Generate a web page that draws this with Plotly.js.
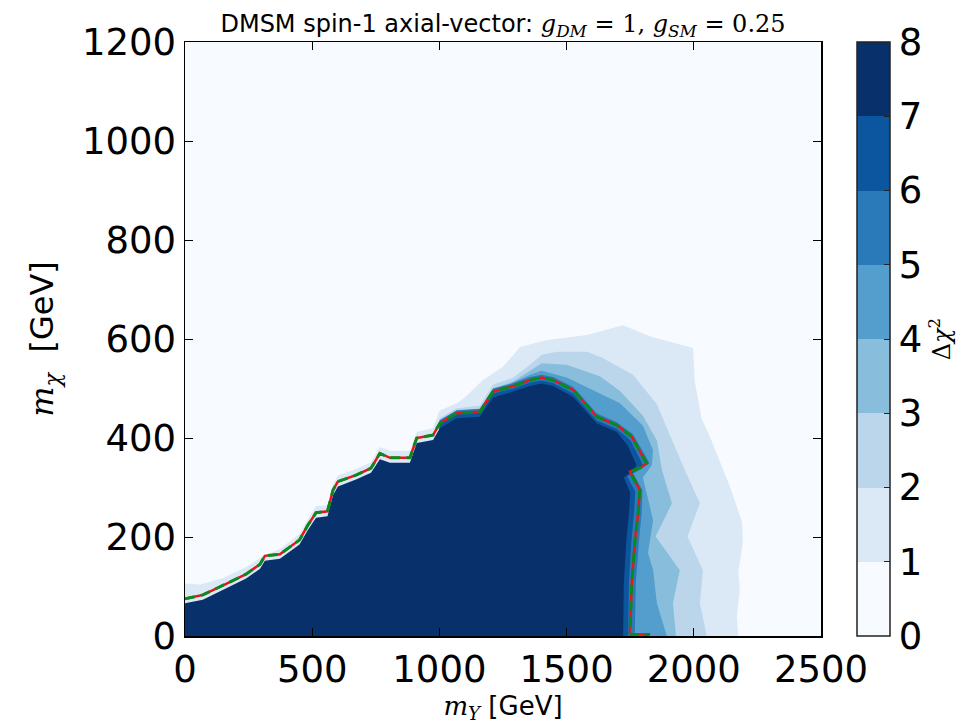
<!DOCTYPE html>
<html>
<head>
<meta charset="utf-8">
<script src="https://cdn.plot.ly/plotly-3.0.1.min.js"></script>
<style>html,body{margin:0;padding:0;background:#fff;}</style>
</head>
<body>
<div id="chart" style="width:973px;height:725px;"></div>
<script>
// Filled Δχ² regions, one boundary per contour level (m_Y, m_χ in GeV)
const level1X = [0, 0, 60, 150, 250, 300, 373, 450, 483, 515, 560, 582, 601, 672, 731, 766, 806, 884, 911, 975, 1000, 1068, 1100, 1171, 1250, 1317, 1422, 1580, 1698, 1722, 1830, 1973, 1997, 2004, 2030, 2063, 2115, 2142, 2190, 2193, 2175, 2181, 2169, 2175];
const level1Y = [0, 106, 104, 117, 142, 160, 176, 206, 236, 262, 264, 307, 324, 337, 351, 382, 374, 374, 412, 420, 455, 470, 482, 517, 544, 584, 598, 608, 625, 628, 605, 584, 582, 514, 440, 403, 335, 302, 230, 188, 130, 93, 40, 0];

const level2X = [1000, 1000, 1068, 1159, 1211, 1290, 1356, 1402, 1462, 1580, 1640, 1761, 1855, 1910, 1965, 2024, 1975, 2036, 2024, 2051];
const level2Y = [0, 440, 460, 465, 508, 522, 548, 568, 574, 574, 562, 528, 468, 400, 335, 268, 201, 133, 66, 0];

const level3X = [1100, 1100, 1159, 1211, 1290, 1356, 1402, 1500, 1592, 1631, 1710, 1800, 1855, 1875, 1914, 1850, 1945, 1918, 1930];
const level3Y = [0, 450, 456, 500, 514, 535, 551, 548, 532, 525, 495, 445, 395, 335, 268, 201, 133, 66, 0];

const level4X = [1200, 1200, 1250, 1290, 1356, 1402, 1500, 1592, 1631, 1710, 1800, 1840, 1835, 1800, 1840, 1820, 1840, 1855, 1894];
const level4Y = [0, 470, 495, 512, 528, 536, 522, 500, 490, 470, 425, 375, 345, 320, 234, 168, 133, 66, 0];

const level5X = [1000, 1000, 1068, 1159, 1211, 1290, 1356, 1402, 1447, 1526, 1580, 1618, 1697, 1760, 1808, 1825, 1795, 1762, 1798, 1795, 1785, 1772, 1768];
const level5Y = [0, 436, 456, 459, 500, 511, 523, 528, 523, 503, 472, 450, 432, 408, 366, 350, 338, 328, 295, 248, 194, 107, 0];

const level6X = [1000, 1000, 1068, 1159, 1211, 1290, 1356, 1402, 1447, 1526, 1580, 1618, 1697, 1750, 1790, 1800, 1770, 1738, 1770, 1765, 1755, 1745, 1742];
const level6Y = [0, 428, 448, 451, 490, 500, 512, 516, 511, 490, 458, 436, 418, 396, 356, 343, 333, 322, 292, 248, 194, 107, 0];

const level7X = [0, 0, 70, 160, 240, 295, 314, 373, 450, 483, 515, 560, 582, 601, 672, 731, 766, 806, 884, 911, 975, 1002, 1068, 1159, 1211, 1290, 1356, 1402, 1447, 1526, 1580, 1618, 1697, 1740, 1775, 1760, 1725, 1750, 1745, 1735, 1725, 1722];
const level7Y = [0, 66, 73, 96, 116, 136, 152, 156, 185, 214, 239, 242, 285, 302, 316, 330, 357, 350, 350, 390, 396, 420, 440, 443, 482, 494, 505, 510, 505, 483, 452, 430, 412, 385, 345, 335, 320, 290, 248, 194, 107, 0];

// 1σ exclusion contour (red solid / green dashed)
const limitX = [0, 70, 160, 240, 295, 314, 373, 450, 483, 515, 560, 582, 601, 672, 731, 766, 806, 884, 911, 975, 1002, 1068, 1159, 1211, 1290, 1356, 1402, 1447, 1526, 1580, 1618, 1697, 1756, 1800, 1815, 1790, 1749, 1788, 1781, 1769, 1756, 1749, 1752, 1828];
const limitY = [75, 83, 105, 125, 145, 162, 165, 194, 224, 249, 252, 295, 312, 325, 339, 369, 360, 360, 400, 406, 430, 450, 453, 494, 505, 517, 522, 517, 497, 465, 443, 426, 403, 362, 349, 340, 332, 295, 248, 194, 107, 6, 3, 3];

const levelColors = ['#f7fbff', '#dbe9f6', '#bbd6eb', '#88bedc', '#549ecd', '#2a7aba', '#0c56a0', '#08306b'];
const levelTicks = [0, 1, 2, 3, 4, 5, 6, 7, 8];
const xTicks = [0, 500, 1000, 1500, 2000, 2500];
const yTicks = [0, 200, 400, 600, 800, 1000, 1200];

const levels = [
  [level1X, level1Y], [level2X, level2Y], [level3X, level3Y], [level4X, level4Y],
  [level5X, level5Y], [level6X, level6Y], [level7X, level7Y]
];

const traces = levels.map((lv, i) => ({
  type: 'scatter', mode: 'lines', x: lv[0], y: lv[1],
  fill: 'toself', fillcolor: levelColors[i + 1],
  line: {width: 0, color: levelColors[i + 1]},
  hoverinfo: 'skip', showlegend: false
}));

traces.push({
  type: 'scatter', mode: 'lines', x: limitX, y: limitY,
  line: {color: '#e8141e', width: 2.5}, hoverinfo: 'skip', showlegend: false
});
traces.push({
  type: 'scatter', mode: 'lines', x: limitX, y: limitY,
  line: {color: '#0a8a1e', width: 3, dash: '10px,6px'}, hoverinfo: 'skip', showlegend: false
});

// discrete colour scale for the colour bar
const cs = [];
levelColors.forEach((c, i) => {
  cs.push([i / 8, c]);
  cs.push([(i + 1) / 8, c]);
});

traces.push({
  type: 'scatter', mode: 'markers', x: [null], y: [null],
  marker: {
    color: [0], cmin: 0, cmax: 8, colorscale: cs, showscale: true, size: 1,
    colorbar: {
      thickness: 33, thicknessmode: 'pixels', len: 1, lenmode: 'fraction',
      x: 1.0566, xanchor: 'left', xpad: 0, y: 0.5, yanchor: 'middle', ypad: 0,
      outlinewidth: 1.5, outlinecolor: '#222',
      tickmode: 'array', tickvals: levelTicks, ticktext: levelTicks.map(String),
      ticks: 'inside', ticklen: 6, tickcolor: '#222',
      tickfont: {family: 'DejaVu Sans', size: 37, color: '#000'},
      title: {text: 'Δ<i>χ</i><sup>2</sup>', side: 'right', font: {family: 'DejaVu Serif', size: 24, color: '#000'}}
    }
  },
  hoverinfo: 'skip', showlegend: false
});

const layout = {
  width: 973, height: 725,
  margin: {l: 185, r: 152, t: 42, b: 89},
  paper_bgcolor: '#ffffff', plot_bgcolor: levelColors[0],
  font: {family: 'DejaVu Sans', color: '#000'},
  title: {
    text: 'DMSM spin-1 axial-vector: <span style="font-family:DejaVu Serif"><i>g</i><sub><i>DM</i></sub> = 1, <i>g</i><sub><i>SM</i></sub> = 0.25</span>',
    font: {family: 'DejaVu Sans', size: 24, color: '#000'},
    x: 0.5, xref: 'paper', xanchor: 'center', y: 0.968, yref: 'container', yanchor: 'middle'
  },
  xaxis: {
    range: [0, 2500], tickmode: 'array', tickvals: xTicks, ticktext: xTicks.map(String),
    ticks: 'inside', ticklen: 8, tickwidth: 1, tickcolor: '#000',
    showline: true, linecolor: '#000', linewidth: 1.5, mirror: 'ticks',
    showgrid: false, zeroline: false,
    tickfont: {family: 'DejaVu Sans', size: 37},
    title: {text: '<span style="font-family:DejaVu Serif"><i>m</i><sub><i>Y</i></sub></span> [GeV]', font: {family: 'DejaVu Sans', size: 26}, standoff: 4}
  },
  yaxis: {
    range: [0, 1200], tickmode: 'array', tickvals: yTicks, ticktext: yTicks.map(String),
    ticks: 'inside', ticklen: 8, tickwidth: 1, tickcolor: '#000',
    showline: true, linecolor: '#000', linewidth: 1.5, mirror: 'ticks',
    showgrid: false, zeroline: false,
    tickfont: {family: 'DejaVu Sans', size: 37},
    title: {text: '<span style="font-family:DejaVu Serif"><i>m</i><sub><i>χ</i></sub></span>  [GeV]', font: {family: 'DejaVu Sans', size: 32}, standoff: 18}
  }
};

Plotly.newPlot('chart', traces, layout, {staticPlot: true, displayModeBar: false});
</script>
</body>
</html>
